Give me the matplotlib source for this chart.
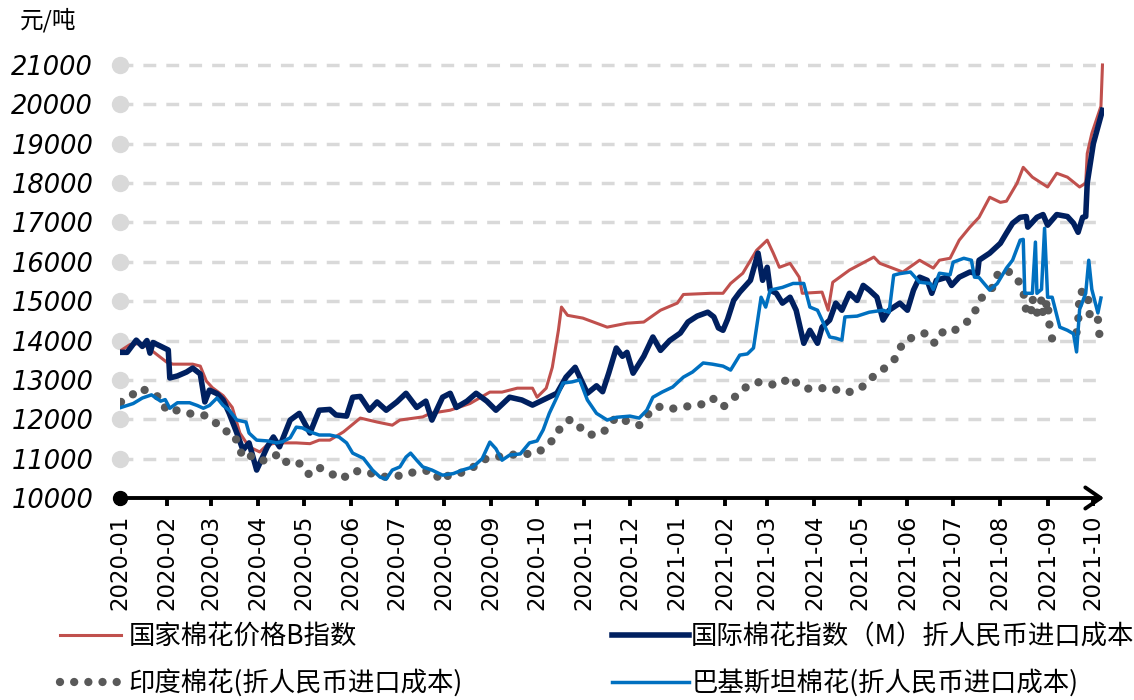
import matplotlib
matplotlib.use('Agg')
import matplotlib.pyplot as plt
import numpy as np
import pandas as pd

plt.rcParams['font.family'] = ['Noto Sans CJK SC', 'DejaVu Sans']

# ---------------- data ----------------
red_dates = ['2020-01-02','2020-01-08','2020-01-16','2020-01-22','2020-02-01','2020-02-05','2020-02-18',
 '2020-02-23','2020-02-27','2020-03-02','2020-03-09','2020-03-15','2020-03-20','2020-03-26','2020-04-02',
 '2020-04-07','2020-04-13','2020-04-26','2020-05-05','2020-05-11','2020-05-18','2020-05-27','2020-06-07',
 '2020-06-18','2020-06-28','2020-07-03','2020-07-18','2020-07-23','2020-08-05','2020-08-18','2020-08-31',
 '2020-09-08','2020-09-18','2020-09-28','2020-10-01','2020-10-07','2020-10-11','2020-10-15','2020-10-17',
 '2020-10-21','2020-10-31','2020-11-16','2020-11-29','2020-12-10','2020-12-21','2021-01-01','2021-01-05',
 '2021-01-23','2021-01-31','2021-02-05','2021-02-13','2021-02-22','2021-03-01','2021-03-05','2021-03-09',
 '2021-03-16','2021-03-22','2021-03-24','2021-04-06','2021-04-10','2021-04-13','2021-04-24','2021-05-10',
 '2021-05-14','2021-05-29','2021-06-09','2021-06-18','2021-06-22','2021-06-29','2021-07-05','2021-07-12',
 '2021-07-18','2021-07-25','2021-08-01','2021-08-05','2021-08-12','2021-08-16','2021-08-22','2021-09-01',
 '2021-09-07','2021-09-14','2021-09-22','2021-09-26','2021-09-27','2021-09-30','2021-10-06','2021-10-07']
red_vals = [13750,13900,13930,13750,13450,13400,13400,13350,12970,12800,12600,12300,11650,11300,11170,
 11350,11400,11400,11380,11470,11470,11680,12030,11930,11850,11980,12060,12150,12230,12400,12690,
 12690,12790,12790,12560,12790,13320,14260,14850,14640,14570,14340,14440,14470,14770,14950,15170,
 15200,15200,15450,15710,16290,16550,16220,15860,15960,15610,15200,15230,14770,15480,15790,16120,
 15960,15740,16040,15840,16040,16090,16550,16880,17130,17640,17510,17540,18000,18400,18150,17900,
 18250,18150,17900,18000,18750,19260,19950,21000]

navy_dates = ['2020-01-02','2020-01-06','2020-01-12','2020-01-16','2020-01-19','2020-01-21','2020-01-23',
 '2020-02-02','2020-02-03','2020-02-08','2020-02-14','2020-02-18','2020-02-23','2020-02-26','2020-02-29',
 '2020-03-05','2020-03-09','2020-03-13','2020-03-18','2020-03-22','2020-03-26','2020-03-31','2020-04-07',
 '2020-04-11','2020-04-15','2020-04-22','2020-04-28','2020-05-05','2020-05-11','2020-05-18','2020-05-22',
 '2020-05-29','2020-06-02','2020-06-07','2020-06-13','2020-06-18','2020-06-24','2020-07-01','2020-07-07',
 '2020-07-14','2020-07-20','2020-07-24','2020-07-31','2020-08-05','2020-08-09','2020-08-16','2020-08-22',
 '2020-08-29','2020-09-04','2020-09-13','2020-09-21','2020-09-28','2020-10-05','2020-10-14','2020-10-20',
 '2020-10-26','2020-10-30','2020-11-03','2020-11-09','2020-11-13','2020-11-17','2020-11-22','2020-11-26',
 '2020-11-29','2020-12-03','2020-12-10','2020-12-16','2020-12-21','2020-12-27','2021-01-03','2021-01-08',
 '2021-01-14','2021-01-21','2021-01-25','2021-01-28','2021-01-31','2021-02-03','2021-02-07','2021-02-11',
 '2021-02-18','2021-02-23','2021-02-26','2021-03-01','2021-03-03','2021-03-07','2021-03-11','2021-03-16',
 '2021-03-20','2021-03-25','2021-03-29','2021-04-03','2021-04-06','2021-04-11','2021-04-15','2021-04-19',
 '2021-04-24','2021-04-29','2021-05-03','2021-05-07','2021-05-12','2021-05-16','2021-05-20','2021-05-27',
 '2021-06-01','2021-06-05','2021-06-09','2021-06-14','2021-06-17','2021-06-20','2021-06-27','2021-06-30',
 '2021-07-05','2021-07-12','2021-07-17','2021-07-18','2021-07-25','2021-08-01','2021-08-05','2021-08-09',
 '2021-08-14','2021-08-18','2021-08-19','2021-08-25','2021-08-29','2021-09-01','2021-09-07','2021-09-14',
 '2021-09-18','2021-09-21','2021-09-24','2021-09-26','2021-09-27','2021-09-29','2021-10-01','2021-10-07']
navy_vals = [13700,13700,14010,13850,14000,13680,13950,13760,13050,13100,13200,13300,13150,12440,12740,
 12650,12490,12150,11650,11220,11400,10710,11300,11550,11300,11980,12150,11650,12230,12250,12110,
 12080,12560,12580,12230,12440,12230,12440,12660,12300,12460,11980,12560,12660,12300,12460,12660,
 12460,12230,12560,12490,12360,12490,12660,13070,13320,12990,12660,12850,12700,13170,13810,13600,
 13700,13170,13600,14090,13750,14000,14190,14470,14620,14720,14600,14320,14260,14540,15020,15230,
 15530,16220,15530,15860,15280,15200,14950,15100,14770,13930,14260,13930,14340,14520,14950,14770,
 15200,15020,15400,15280,15100,14520,14770,14950,14770,15280,15610,15530,15200,15530,15610,15400,
 15610,15740,15700,16040,16220,16470,16730,16980,17130,17150,16880,17130,17200,16930,17200,17150,
 16980,16750,17130,17150,18000,18500,19000,19850]

india_dates = ['2020-01-02','2020-01-09','2020-01-15','2020-01-22','2020-01-28','2020-02-01','2020-02-07',
 '2020-02-15','2020-02-25','2020-03-02','2020-03-09','2020-03-15','2020-03-19','2020-03-22','2020-03-30',
 '2020-04-05','2020-04-13','2020-04-17','2020-04-23','2020-04-29','2020-05-04','2020-05-10','2020-05-26',
 '2020-06-02','2020-06-11','2020-06-20','2020-06-28','2020-07-07','2020-07-15','2020-07-24','2020-07-30',
 '2020-08-05','2020-08-16','2020-08-22','2020-08-29','2020-09-04','2020-09-12','2020-09-21','2020-09-29',
 '2020-10-05','2020-10-12','2020-10-17','2020-10-23','2020-10-29','2020-11-04','2020-11-13','2020-11-22',
 '2020-11-30','2020-12-07','2020-12-13','2020-12-19','2020-12-25','2021-01-01','2021-01-08','2021-01-17',
 '2021-01-24','2021-01-31','2021-02-07','2021-02-14','2021-02-21','2021-02-25','2021-03-02','2021-03-09',
 '2021-03-16','2021-03-23','2021-03-29','2021-04-06','2021-04-13','2021-04-20','2021-04-28','2021-05-05',
 '2021-05-11','2021-05-18','2021-05-25','2021-05-29','2021-06-06','2021-06-13','2021-06-19','2021-06-25',
 '2021-07-02','2021-07-10','2021-07-15','2021-07-20','2021-07-27','2021-07-31','2021-08-06','2021-08-12',
 '2021-08-17','2021-08-18','2021-08-21','2021-08-22','2021-08-24','2021-08-26','2021-08-28','2021-08-29',
 '2021-09-01','2021-09-02','2021-09-03','2021-09-04','2021-09-10','2021-09-20','2021-09-21','2021-09-22',
 '2021-09-27','2021-09-29','2021-10-04','2021-10-05']
india_vals = [12440,12610,12790,12660,12540,12200,12230,12150,12110,12000,11700,11680,11370,11010,11090,
 10940,11090,10890,10960,10860,10610,10790,10480,10690,10660,10560,10510,10630,10660,10710,10430,
 10610,10660,10840,11010,11040,11090,11120,11120,11240,11500,11830,12000,11800,11600,11650,12060,
 11930,11850,12130,12330,12260,12280,12330,12380,12540,12310,12540,12790,12940,12940,12890,12870,
 13070,12820,12770,12790,12790,12670,12720,12890,13150,13320,13580,13960,14110,14190,13930,14260,
 14260,14470,14720,15100,15350,15760,15760,15600,15100,14700,14650,15080,14720,14700,15050,14650,
 15020,14440,14260,14030,np.nan,14210,14440,15230,15250,14520,14540,14140]

pak_dates = ['2020-01-02','2020-01-06','2020-01-10','2020-01-16','2020-01-22','2020-01-28','2020-01-31',
 '2020-02-03','2020-02-08','2020-02-16','2020-02-21','2020-02-25','2020-02-29','2020-03-05','2020-03-09',
 '2020-03-13','2020-03-18','2020-03-24','2020-03-26','2020-03-31','2020-04-07','2020-04-13','2020-04-17',
 '2020-04-22','2020-04-26','2020-04-30','2020-05-05','2020-05-11','2020-05-18','2020-05-24','2020-05-29',
 '2020-06-02','2020-06-09','2020-06-15','2020-06-20','2020-06-24','2020-06-28','2020-07-03','2020-07-07',
 '2020-07-10','2020-07-14','2020-07-18','2020-07-24','2020-07-31','2020-08-07','2020-08-13','2020-08-20',
 '2020-08-26','2020-08-31','2020-09-04','2020-09-08','2020-09-13','2020-09-20','2020-09-26','2020-10-01',
 '2020-10-05','2020-10-09','2020-10-14','2020-10-18','2020-10-24','2020-10-29','2020-11-03','2020-11-09',
 '2020-11-16','2020-11-22','2020-12-01','2020-12-07','2020-12-12','2020-12-16','2020-12-22','2020-12-29',
 '2021-01-05','2021-01-11','2021-01-18','2021-01-24','2021-01-31','2021-02-05','2021-02-11','2021-02-16',
 '2021-02-20','2021-02-25','2021-02-28','2021-03-03','2021-03-11','2021-03-18','2021-03-25','2021-03-29',
 '2021-04-03','2021-04-06','2021-04-11','2021-04-15','2021-04-19','2021-04-21','2021-04-29','2021-05-07',
 '2021-05-16','2021-05-20','2021-05-23','2021-05-27','2021-06-03','2021-06-09','2021-06-16','2021-06-18',
 '2021-06-22','2021-06-29','2021-07-01','2021-07-08','2021-07-13','2021-07-15','2021-07-18','2021-07-25',
 '2021-07-30','2021-08-05','2021-08-09','2021-08-14','2021-08-16','2021-08-17','2021-08-22','2021-08-24',
 '2021-08-25','2021-08-28','2021-08-30','2021-09-01','2021-09-04','2021-09-09','2021-09-14','2021-09-18',
 '2021-09-20','2021-09-22','2021-09-26','2021-09-28','2021-09-30','2021-10-04','2021-10-06']
pak_vals = [12300,12350,12400,12540,12620,12460,12500,12280,12420,12420,12350,12280,12350,12540,12350,
 12230,11980,11930,11650,11470,11450,11400,11430,11530,11800,11780,11680,11600,11600,11550,11400,
 11140,11010,10710,10530,10480,10710,10790,11040,11140,10960,10790,10710,10580,10620,10710,10790,
 11000,11420,11250,10960,11090,11120,11400,11450,11730,12150,12560,12920,12950,13000,12490,12150,
 11980,12050,12080,12030,12230,12560,12690,12820,13070,13200,13430,13400,13350,13250,13630,13660,
 13810,15100,14850,15280,15350,15450,15450,14850,14770,14520,14090,14060,14010,14600,14620,14720,
 14770,14720,15660,15700,15740,15480,15450,15300,15710,15670,15990,16090,16040,15610,15600,15280,
 15450,15840,16040,16550,16570,15200,15200,16500,15200,15300,16850,15100,15100,14340,14260,14170,
 13710,14790,15200,16040,15300,14700,15080]

yticks = list(range(10000, 21001, 1000))
month_ticks = pd.date_range('2020-01-01', '2021-10-01', freq='MS')
month_labels = [d.strftime('%Y-%m') for d in month_ticks]
x_start = pd.Timestamp('2020-01-01')
x_end = pd.Timestamp('2021-10-08')

labels = ['国家棉花价格B指数', '国际棉花指数（M）折人民币进口成本',
          '印度棉花(折人民币进口成本)', '巴基斯坦棉花(折人民币进口成本)']
colors = ['#C0504D', '#002060', '#595959', '#0070C0']

# ---------------- figure ----------------
W, H = 1134, 700
fig = plt.figure(figsize=(W / 100, H / 100), dpi=100)
ax_left, ax_right = 119.5, 1104
ax_bottom, ax_top = 498, 63
ax = fig.add_axes([ax_left / W, 1 - ax_bottom / H, (ax_right - ax_left) / W, (ax_bottom - ax_top) / H])

ax.set_xlim(x_start, x_end)
ax.set_ylim(10000, 21050)

for s in ax.spines.values():
    s.set_visible(False)

ax.set_yticks(yticks)
ax.set_yticklabels([str(v) for v in yticks], fontfamily='DejaVu Sans', fontstyle='italic', fontsize=18.5)
ax.tick_params(axis='y', length=0, pad=19)
ax.grid(axis='y', color='#D9D9D9', lw=2.5, linestyle=(0, (3.7, 2.9)), zorder=0)
ax.set_axisbelow(True)

ax.set_xticks(month_ticks)
ax.set_xticklabels(month_labels, rotation=90, fontfamily='DejaVu Sans', fontsize=16.5)
ax.tick_params(axis='x', direction='out', length=6, width=2.8, pad=6, color='black')

# series
l_red, = ax.plot(pd.to_datetime(red_dates), red_vals, color=colors[0], lw=2.2, zorder=3, label=labels[0])
l_navy, = ax.plot(pd.to_datetime(navy_dates), navy_vals, color=colors[1], lw=4.0, zorder=4, label=labels[1],
                  solid_joinstyle='round')
l_ind, = ax.plot(pd.to_datetime(india_dates), india_vals, color=colors[2], lw=6.0,
                 linestyle=(0, (0.001, 1.7)), dash_capstyle='round', zorder=5, label=labels[2])
l_pak, = ax.plot(pd.to_datetime(pak_dates), pak_vals, color=colors[3], lw=2.5, zorder=6, label=labels[3])

# left decorative circles and origin
ax.plot([x_start] * (len(yticks) - 1), yticks[1:], 'o', ms=11.5, color='#D9D9D9', clip_on=False, zorder=2)
ax.plot([x_start], [10000], 'o', ms=10, color='black', clip_on=False, zorder=8)

# x axis with arrow
ax.annotate('', xy=(1.0, 0), xytext=(0, 0), xycoords='axes fraction', textcoords='axes fraction',
            arrowprops=dict(arrowstyle='->,head_length=0.55,head_width=0.38', lw=2.8, color='black',
                            shrinkA=0, shrinkB=0, mutation_scale=20),
            annotation_clip=False, zorder=7)

fig.text(20 / W, 1 - 20 / H, '元/吨', fontsize=17, va='center', ha='left',
         family=['Noto Sans CJK SC', 'DejaVu Sans'])

leg1 = fig.legend([l_red, l_ind], [labels[0], labels[2]], loc='center left',
                  bbox_to_anchor=(60 / W, 1 - 660 / H), frameon=False, fontsize=19,
                  handlelength=2.3, handletextpad=0.3, labelspacing=0.72, borderpad=0, borderaxespad=0)
leg2 = fig.legend([l_navy, l_pak], [labels[1], labels[3]], loc='center left',
                  bbox_to_anchor=(612 / W, 1 - 660 / H), frameon=False, fontsize=19,
                  handlelength=2.9, handletextpad=0.1, labelspacing=0.72, borderpad=0, borderaxespad=0)

fig.savefig('out.png', dpi=100)
